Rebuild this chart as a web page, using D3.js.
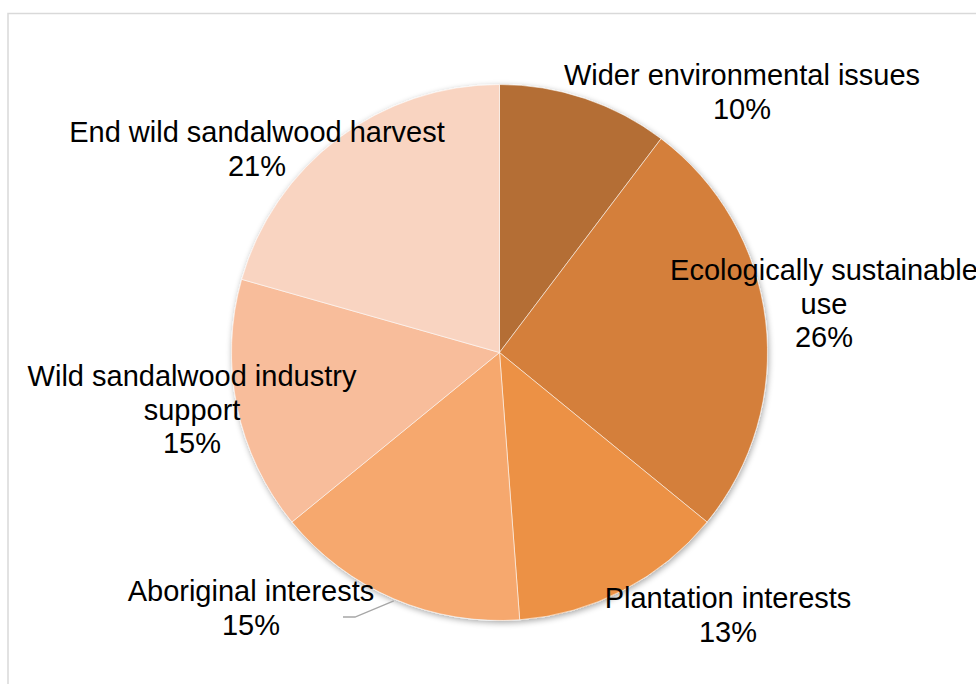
<!DOCTYPE html>
<html>
<head>
<meta charset="utf-8">
<script src="https://cdn.jsdelivr.net/npm/d3@7"></script>
<style>
  body { margin: 0; background: #fff; }
  svg { display: block; }
  text { font-family: "Liberation Sans", Arial, sans-serif; font-size: 29px; fill: #000; }
</style>
</head>
<body>
<svg width="976" height="684"></svg>
<script>
// data, clockwise from 12 o'clock (shares)
const categories = ["Wider environmental issues", "Ecologically sustainable use", "Plantation interests",
                    "Aboriginal interests", "Wild sandalwood industry support", "End wild sandalwood harvest"];
const shares = [10.3, 25.6, 12.9, 15.3, 15.3, 20.6];
const labelLines = [
    ["Wider environmental issues"],
    ["Ecologically sustainable", "use"],
    ["Plantation interests"],
    ["Aboriginal interests"],
    ["Wild sandalwood industry", "support"],
    ["End wild sandalwood harvest"]
];
const colors = ["#b46e34", "#d47f3b", "#ec9144", "#f6a86e", "#f8bd9b", "#f9d4c1"];

// where Excel dropped each label (center x, first baseline)
const labelPos = [[742, 85], [824, 280], [728, 608], [251, 601], [192, 386], [257, 142]];
const lineH = 33.5;

const svg = d3.select("svg");
const cx = 499.5, cy = 352.5, r = 268;

// chart area frame, runs off the right and bottom edges
svg.append("rect")
    .attr("x", 8).attr("y", 13.5)
    .attr("width", 1000).attr("height", 700)
    .attr("fill", "none")
    .attr("stroke", "#d9d9d9")
    .attr("stroke-width", 1.5);

const defs = svg.append("defs");
const f = defs.append("filter").attr("id", "shadow")
    .attr("x", "-10%").attr("y", "-10%").attr("width", "120%").attr("height", "120%");
f.append("feGaussianBlur").attr("in", "SourceAlpha").attr("stdDeviation", 3);
f.append("feOffset").attr("dx", 1).attr("dy", 2).attr("result", "b");
f.append("feComponentTransfer").append("feFuncA").attr("type", "linear").attr("slope", 0.35);
const m = f.append("feMerge");
m.append("feMergeNode");
m.append("feMergeNode").attr("in", "SourceGraphic");

const pie = d3.pie().sort(null).value(d => d)(shares);
const arc = d3.arc().innerRadius(0).outerRadius(r);

const g = svg.append("g").attr("transform", `translate(${cx},${cy})`);
g.append("g").attr("filter", "url(#shadow)")
    .selectAll("path")
    .data(pie)
    .enter()
    .append("path")
    .attr("d", arc)
    .attr("fill", (d, i) => colors[i])
    .attr("stroke", "rgba(255,255,255,0.55)")
    .attr("stroke-width", 1);

// leader line for the Aboriginal slice
const ab = pie[3];
const mid = (ab.startAngle + ab.endAngle) / 2;
const p0 = [cx + r * Math.sin(mid), cy - r * Math.cos(mid) + 2];
svg.append("polyline")
    .attr("points", [p0, [355, 617], [343, 617]].map(p => p.join(",")).join(" "))
    .attr("fill", "none")
    .attr("stroke", "#a6a6a6")
    .attr("stroke-width", 1.3);

const labels = svg.selectAll("text.lbl")
    .data(pie)
    .enter()
    .append("text")
    .attr("class", "lbl")
    .attr("text-anchor", "middle");

labels.each(function(d, i) {
    const t = d3.select(this);
    const lines = labelLines[i].concat([Math.round(shares[i]) + "%"]);
    lines.forEach((s, j) => {
        t.append("tspan")
            .attr("x", labelPos[i][0])
            .attr("y", labelPos[i][1] + j * lineH)
            .text(s);
    });
});
</script>
</body>
</html>
